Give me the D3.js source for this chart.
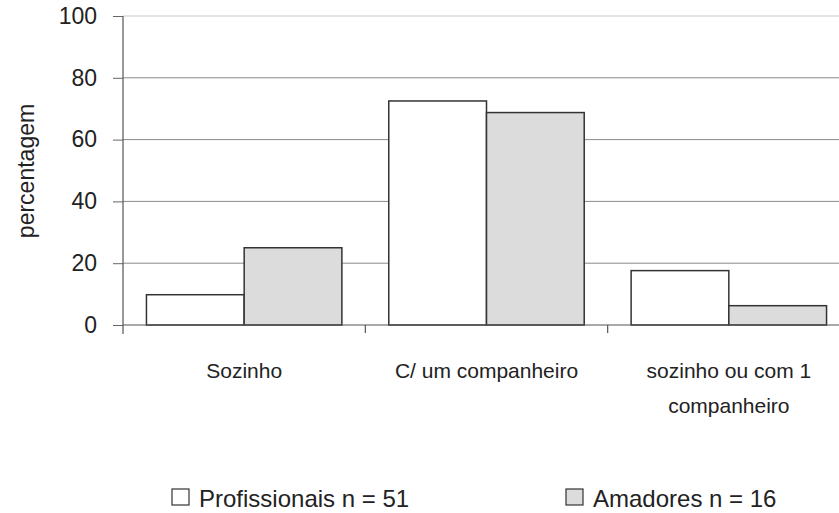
<!DOCTYPE html>
<html><head><meta charset="utf-8">
<script src="https://cdn.jsdelivr.net/npm/d3@7"></script>
<style>
html,body{margin:0;padding:0;background:#fff;}
svg{display:block;font-family:"Liberation Sans",Arial,sans-serif;}
</style></head>
<body>
<svg id="chart" width="839" height="513"></svg>
<script>
const categories = ["Sozinho", "C/ um companheiro", "sozinho ou com 1 companheiro"];
const seriesNames = ["Profissionais n = 51", "Amadores n = 16"];
const profissionais = [9.8, 72.5, 17.6];
const amadores = [25, 68.75, 6.25];
const yTicks = [0, 20, 40, 60, 80, 100];
const yLabel = "percentagem";
const seriesFill = ["#ffffff", "#dcdcdc"];

const svg = d3.select("#chart");
const plot = {left: 123, right: 850, top: 16, bottom: 325};

const x0 = d3.scaleBand().domain(categories).range([plot.left, plot.right]).paddingInner(0).paddingOuter(0);
const x1 = d3.scaleBand().domain(seriesNames).range([0, x0.bandwidth()]).paddingInner(0).paddingOuter(0.24);
const y = d3.scaleLinear().domain([0, 100]).range([plot.bottom, plot.top]);
const color = d3.scaleOrdinal().domain(seriesNames).range(seriesFill);

const seriesValues = [profissionais, amadores];
const rows = categories.map((c, i) => ({cat: c, vals: seriesNames.map((s, j) => ({s, v: seriesValues[j][i]}))}));

// gridlines
svg.append("g").selectAll("line").data(yTicks.filter(t => t > 0)).join("line")
  .attr("x1", plot.left).attr("x2", 839)
  .attr("y1", d => y(d)).attr("y2", d => y(d))
  .attr("stroke", d => d === 100 ? "#c8c8c8" : "#8a8a8a").attr("stroke-width", 1);

// y axis
const yAxis = svg.append("g").attr("transform", `translate(${plot.left},0)`)
  .call(d3.axisLeft(y).tickValues(yTicks).tickSize(10).tickPadding(16).tickSizeOuter(0));
yAxis.select(".domain").remove();
yAxis.selectAll(".tick line").attr("stroke", "#666");
yAxis.selectAll(".tick text").attr("font-size", 23).attr("fill", "#222")
  .attr("font-family", "'Liberation Sans',Arial,sans-serif");
svg.append("line").attr("x1", plot.left).attr("x2", plot.left)
  .attr("y1", y(100)).attr("y2", plot.bottom + 9).attr("stroke", "#555").attr("stroke-width", 1.2);

// bars
const groups = svg.append("g").selectAll("g").data(rows).join("g")
  .attr("transform", d => `translate(${x0(d.cat)},0)`);
groups.selectAll("rect").data(d => d.vals).join("rect")
  .attr("x", d => x1(d.s)).attr("width", x1.bandwidth())
  .attr("y", d => y(d.v)).attr("height", d => y(0) - y(d.v))
  .attr("fill", d => color(d.s)).attr("stroke", "#333").attr("stroke-width", 1.5);

// x axis
svg.append("line").attr("x1", plot.left).attr("x2", 839)
  .attr("y1", plot.bottom).attr("y2", plot.bottom).attr("stroke", "#555").attr("stroke-width", 1.2);
svg.append("g").selectAll("line").data(categories.slice(1)).join("line")
  .attr("x1", d => x0(d)).attr("x2", d => x0(d))
  .attr("y1", plot.bottom).attr("y2", plot.bottom + 8).attr("stroke", "#555").attr("stroke-width", 1.2);

const xAxis = svg.append("g").attr("transform", `translate(0,${plot.bottom})`)
  .call(d3.axisBottom(x0).tickSize(0).tickPadding(0));
xAxis.select(".domain").remove();
xAxis.selectAll(".tick text").attr("font-size", 21).attr("fill", "#222")
  .attr("font-family", "'Liberation Sans',Arial,sans-serif")
  .attr("y", 53).attr("dy", 0)
  .each(function(d) {
    const t = d3.select(this);
    const words = d.split(" ");
    t.text(null);
    let line = [], lineNo = 0;
    let tspan = t.append("tspan").attr("x", 0).attr("y", 53);
    for (const w of words) {
      line.push(w);
      tspan.text(line.join(" "));
      if (tspan.node().getComputedTextLength() > 212 && line.length > 1) {
        line.pop(); tspan.text(line.join(" "));
        line = [w]; lineNo++;
        tspan = t.append("tspan").attr("x", 0).attr("y", 53 + lineNo * 35).text(w);
      }
    }
  });

// y label
svg.append("text").attr("transform", "translate(34,171) rotate(-90)")
  .attr("text-anchor", "middle").attr("font-size", 23).attr("fill", "#222").text(yLabel);

// legend
const legendX = [172, 566];
const lg = svg.append("g").selectAll("g").data(seriesNames).join("g")
  .attr("transform", (d, i) => `translate(${legendX[i]},489)`);
lg.append("rect").attr("width", 17).attr("height", 16)
  .attr("fill", d => color(d)).attr("stroke", "#333").attr("stroke-width", 1.2);
lg.append("text").attr("x", 27).attr("y", 18).attr("font-size", 24).attr("fill", "#222").text(d => d);
</script>
</body></html>
